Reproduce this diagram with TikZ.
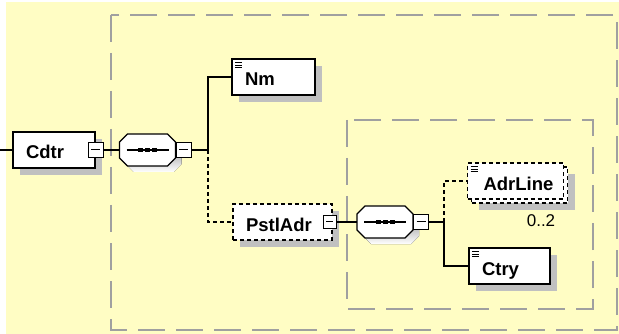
\documentclass[tikz,border=0pt]{standalone}
\usepackage{fontspec}
\setmainfont{Liberation Sans}
\usetikzlibrary{shadows}

\definecolor{paper}{RGB}{255,253,196}
\definecolor{framegray}{RGB}{160,160,160}
\definecolor{shade}{RGB}{192,192,192}

\newcommand\octagonpath{(-20,-16) -- (20,-16) -- (28,-8) -- (28,8) -- (20,16) -- (-20,16) -- (-28,8) -- (-28,-8) -- cycle}

\begin{document}
\begin{tikzpicture}[
    x=1pt, y=-1pt,
    every node/.style={font=\fontsize{18.5}{20}\selectfont\bfseries},
    conn/.style={line width=1.2pt},
    opt/.style={dash pattern=on 4pt off 3pt},
    frame/.style={draw=framegray, line width=2pt, dash pattern=on 27pt off 11pt},
    elem/.style={draw, fill=white, rectangle, line width=1.2pt,
        minimum height=36pt, inner xsep=13pt, align=left,
        text height=18pt, text depth=0pt},
    shadowed/.style={general shadow={fill=shade, shadow xshift=7pt, shadow yshift=-7pt}},
    leaf/.style={path picture={
        \foreach \k in {3.5,6,8.5}
            \draw[solid, line width=0.8pt] ([xshift=3pt,yshift=-\k pt]path picture bounding box.north west) -- +(7pt,0);
    }},
    minusbox/.style={draw, fill=white, rectangle, line width=1.2pt, minimum size=15pt, inner sep=0pt,
        path picture={
            \draw[solid, line width=1pt] ([xshift=3pt]path picture bounding box.west) -- ([xshift=-3pt]path picture bounding box.east);
        }},
    pics/seqgroup/.style={code={
        \fill[shade, shift={(6,6)}] \octagonpath;
        \draw[line width=1.2pt, fill=white] \octagonpath;
        \draw[line width=1.2pt] (-21,0) -- (21,0);
        \foreach \d in {-7,0,7}
            \fill[black] (\d-2.5,-2) rectangle +(5,4);
        \node[inner sep=0pt, minimum width=56pt, minimum height=32pt] (-box) {};
        \node[minusbox, anchor=west] (-m) at (28,0) {};
    }}
]
% background and group frames
\useasboundingbox (0,0) rectangle (619,334);
\fill[paper] (6,2) rectangle (619,334);
\draw[frame] (111,15) rectangle (617,330);
\draw[frame] (347,120) rectangle (593,309);

% elements
\node[elem, shadowed, text width=56pt] (cdtr) at (54,150) {Cdtr};
\node[minusbox] (cdtrm) at (cdtr.east) {};
\pic (seq1) at (147.5,150) {seqgroup};

\node[elem, shadowed, leaf, text width=57pt] (nm) at (273.5,77) {Nm};
\node[elem, shadowed, opt, text width=73pt] (pstladr) at (282.5,222) {PstlAdr};
\node[minusbox, minimum size=13pt] (pstladrm) at ([xshift=-3pt]pstladr.east) {};
\pic (seq2) at (385,222) {seqgroup};

\node[elem, shadowed, opt, text width=70pt] (adrbg) at (519.5,185) {};
\node[elem, leaf, opt, inner xsep=16pt, text width=64pt] (adrline) at (515.5,181) {AdrLine};
\node[font=\fontsize{17}{20}\selectfont] (card) at (541,221) {0..2};
\node[elem, shadowed, leaf, text width=55pt] (ctry) at (509.5,266) {Ctry};

% connectors
\coordinate (start) at (0,150);
\coordinate (split1) at (208,150);
\coordinate (split2) at (444,222);
\draw[conn] (start) -- (cdtr);
\draw[conn] (cdtrm) -- (seq1-box);
\draw[conn] (seq1-m) -- (split1);
\draw[conn] (split1) |- (nm);
\draw[conn, opt] (split1) |- (pstladr);
\draw[conn] (pstladrm) -- (seq2-box);
\draw[conn] (seq2-m) -- (split2);
\draw[conn, opt] (split2) |- (adrline);
\draw[conn] (split2) |- (ctry);
\end{tikzpicture}
\end{document}
